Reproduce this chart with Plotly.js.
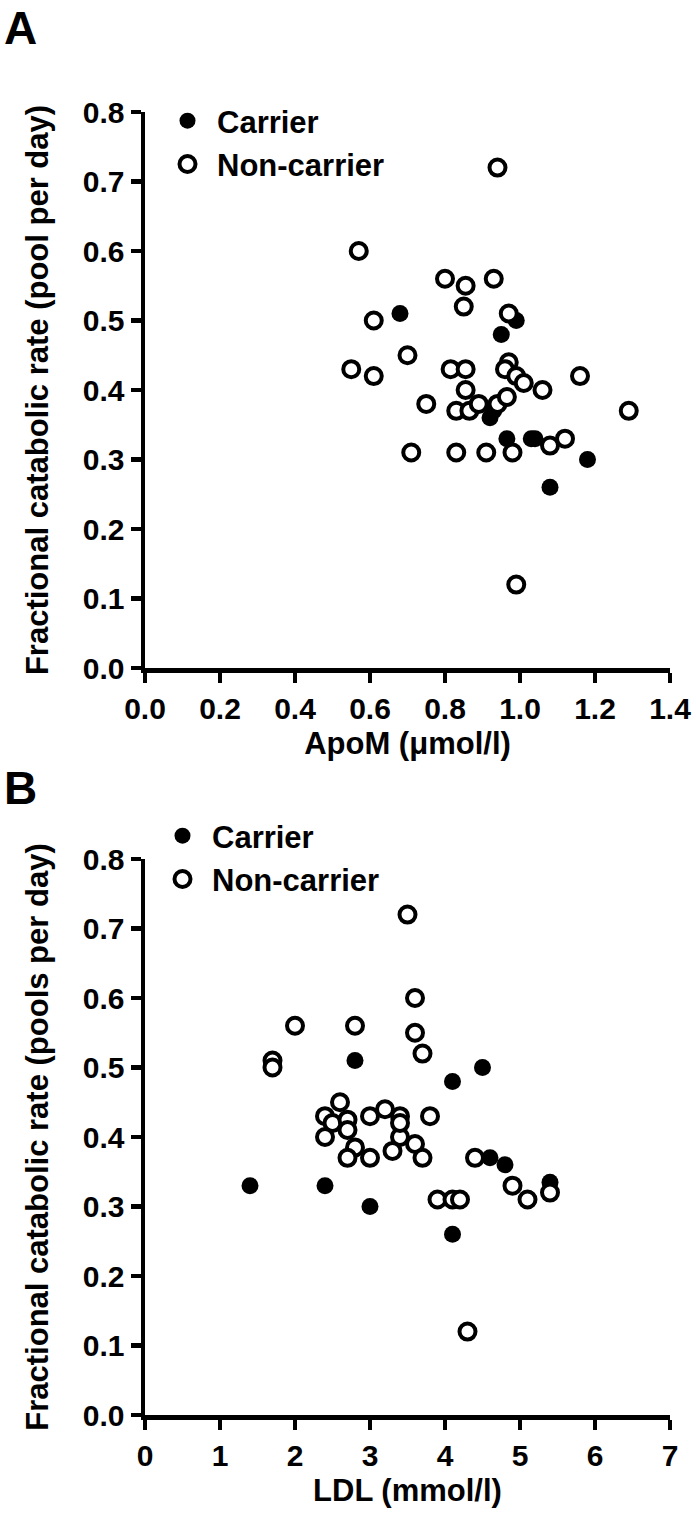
<!DOCTYPE html>
<html>
<head>
<meta charset="utf-8">
<script src="https://cdn.plot.ly/plotly-3.0.1.min.js"></script>
<style>
  html, body { margin: 0; padding: 0; background: #fff; }
  #plot { width: 696px; height: 1513px; }
</style>
</head>
<body>
<div id="plot"></div>
<script>
// Panel A: ApoM vs fractional catabolic rate
const apomCarrierX = [0.68, 0.99, 0.95, 0.92, 0.93, 0.965, 1.03, 1.04, 1.18, 1.08];
const apomCarrierY = [0.51, 0.50, 0.48, 0.36, 0.37, 0.33, 0.33, 0.33, 0.30, 0.26];
const apomNonX = [0.94, 0.57, 0.80, 0.855, 0.93, 0.85, 0.61, 0.97, 0.70, 0.55, 0.61, 0.815,
                  0.855, 0.97, 0.96, 0.99, 1.01, 1.06, 1.16, 0.855, 0.75, 0.83, 0.865, 0.89,
                  0.94, 0.965, 1.29, 1.08, 1.12, 0.71, 0.83, 0.91, 0.98, 0.99];
const apomNonY = [0.72, 0.60, 0.56, 0.55, 0.56, 0.52, 0.50, 0.51, 0.45, 0.43, 0.42, 0.43,
                  0.43, 0.44, 0.43, 0.42, 0.41, 0.40, 0.42, 0.40, 0.38, 0.37, 0.37, 0.38,
                  0.38, 0.39, 0.37, 0.32, 0.33, 0.31, 0.31, 0.31, 0.31, 0.12];

// Panel B: LDL vs fractional catabolic rate
const ldlCarrierX = [1.4, 2.4, 3.0, 2.8, 4.1, 4.5, 4.6, 4.8, 5.4, 4.1];
const ldlCarrierY = [0.33, 0.33, 0.30, 0.51, 0.48, 0.50, 0.37, 0.36, 0.335, 0.26];
const ldlNonX = [3.5, 2.0, 2.8, 3.6, 3.6, 3.7, 1.7, 1.7, 2.6, 2.4, 2.5, 2.7, 2.7, 2.4, 3.0, 3.2,
                 3.4, 3.8, 3.4, 3.6, 3.3, 3.7, 2.8, 2.7, 3.0, 4.4, 3.9, 4.1, 4.2, 5.1, 4.9, 5.4,
                 4.3, 3.4];
const ldlNonY = [0.72, 0.56, 0.56, 0.60, 0.55, 0.52, 0.51, 0.50, 0.45, 0.43, 0.42, 0.425, 0.41,
                 0.40, 0.43, 0.44, 0.43, 0.43, 0.40, 0.39, 0.38, 0.37, 0.385, 0.37, 0.37, 0.37,
                 0.31, 0.31, 0.31, 0.31, 0.33, 0.32, 0.12, 0.42];

const groupNames = ['Carrier', 'Non-carrier'];
const panelLabels = ['A', 'B'];
const xTitles = ['ApoM (μmol/l)', 'LDL (mmol/l)'];
const yTitles = ['Fractional catabolic rate (pool per day)', 'Fractional catabolic rate (pools per day)'];

const W = 696, H = 1513;
const font = 'Liberation Sans, Arial, sans-serif';

const filled = { size: 17, color: '#000', line: { width: 0 } };
const hollow = { size: 16, color: '#fff', line: { color: '#000', width: 4 } };

function pts(x, y, name, marker, xa, ya, lg) {
    return { x: x, y: y, type: 'scatter', mode: 'markers', name: name,
             marker: marker, xaxis: xa, yaxis: ya, legend: lg, cliponaxis: false };
}

const traces = [
    pts(apomCarrierX, apomCarrierY, groupNames[0], filled, 'x', 'y', 'legend'),
    pts(apomNonX, apomNonY, groupNames[1], hollow, 'x', 'y', 'legend'),
    pts(ldlCarrierX, ldlCarrierY, groupNames[0], filled, 'x2', 'y2', 'legend2'),
    pts(ldlNonX, ldlNonY, groupNames[1], hollow, 'x2', 'y2', 'legend2')
];

function xAxis(range, dtick, fmt, title, dom, anchor) {
    return {
        domain: dom, range: range, dtick: dtick, tick0: 0, tickformat: fmt, anchor: anchor,
        showline: true, linecolor: '#000', linewidth: 4.5,
        ticks: 'outside', ticklen: 10, tickwidth: 4.5, tickcolor: '#000',
        showgrid: false, zeroline: false, fixedrange: true,
        tickfont: { family: font, size: 30, color: '#000', weight: 'bold' },
        title: { text: title, standoff: 10, font: { family: font, size: 31, color: '#000', weight: 'bold' } }
    };
}
function yAxis(title, dom, anchor) {
    return {
        domain: dom, range: [0, 0.8], dtick: 0.1, tick0: 0, tickformat: '.1f', anchor: anchor,
        showline: true, linecolor: '#000', linewidth: 4.5,
        ticks: 'outside', ticklen: 10, tickwidth: 4.5, tickcolor: '#000',
        showgrid: false, zeroline: false, fixedrange: true,
        tickfont: { family: font, size: 30, color: '#000', weight: 'bold' },
        title: { text: title, standoff: 26, font: { family: font, size: 31, color: '#000', weight: 'bold' } }
    };
}

const xDom = [145 / W, 670 / W];
const legendFont = { family: font, size: 31, color: '#000', weight: 'bold' };
const layout = {
    width: W, height: H,
    margin: { l: 0, r: 0, t: 0, b: 0 },
    paper_bgcolor: '#fff', plot_bgcolor: '#fff',
    showlegend: true,
    xaxis: xAxis([0, 1.4], 0.2, '.1f', xTitles[0], xDom, 'y'),
    yaxis: yAxis(yTitles[0], [1 - 668 / H, 1 - 112 / H], 'x'),
    xaxis2: xAxis([0, 7], 1, 'd', xTitles[1], xDom, 'y2'),
    yaxis2: yAxis(yTitles[1], [1 - 1415 / H, 1 - 859 / H], 'x2'),
    legend: {
        x: 158 / W, y: 1 - 94 / H, xanchor: 'left', yanchor: 'top',
        bgcolor: 'rgba(0,0,0,0)', itemwidth: 49, tracegroupgap: 0, font: legendFont
    },
    legend2: {
        x: 153 / W, y: 1 - 809 / H, xanchor: 'left', yanchor: 'top',
        bgcolor: 'rgba(0,0,0,0)', itemwidth: 49, tracegroupgap: 0, font: legendFont
    },
    annotations: [
        { text: panelLabels[0], xref: 'paper', yref: 'paper', x: 2 / W, y: 1 - 0 / H,
          xanchor: 'left', yanchor: 'top', showarrow: false,
          font: { family: font, size: 46, color: '#000', weight: 'bold' } },
        { text: panelLabels[1], xref: 'paper', yref: 'paper', x: 2 / W, y: 1 - 760 / H,
          xanchor: 'left', yanchor: 'top', showarrow: false,
          font: { family: font, size: 46, color: '#000', weight: 'bold' } }
    ]
};

Plotly.newPlot('plot', traces, layout, { staticPlot: true, displayModeBar: false });
</script>
</body>
</html>
